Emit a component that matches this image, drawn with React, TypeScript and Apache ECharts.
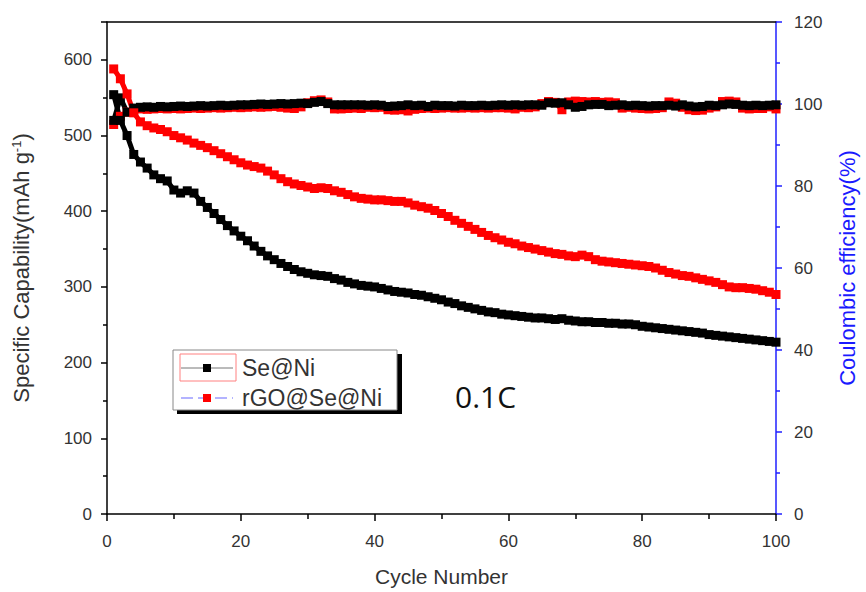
import React, { useEffect, useRef } from "react";
import * as echarts from "echarts";

const cycles: number[] = Array.from({ length: 100 }, (_, i) => i + 1);

const seNiCapacity = [
  554, 520, 500, 475, 465, 457, 448, 443, 440, 428,
  424, 427, 424, 413, 405, 397, 389, 381, 374, 367,
  361, 354, 347, 341, 336, 331, 327, 323, 320, 318,
  316, 315, 314, 311, 309, 306, 304, 302, 301, 300,
  298, 296, 294, 293, 292, 290, 289, 287, 285, 283,
  280, 278, 275, 273, 271, 269, 267, 266, 264, 263,
  262, 261, 260, 259, 259, 258, 257, 258, 256, 255,
  254, 254, 253, 253, 252, 252, 251, 251, 250, 248,
  247, 246, 245, 244, 243, 242, 241, 240, 239, 237,
  236, 235, 234, 233, 232, 231, 230, 229, 228, 227,
];

const rgoCapacity = [
  588, 575, 555, 530, 518, 513, 510, 508, 505, 500,
  497, 494, 490, 487, 484, 480, 476, 472, 468, 464,
  461, 459, 457, 453, 448, 443, 439, 436, 434, 432,
  430, 431, 430, 427, 425, 422, 419, 417, 416, 415,
  415, 414, 413, 413, 411, 408, 406, 404, 401, 397,
  393, 388, 384, 380, 376, 372, 368, 365, 362, 359,
  357, 354, 352, 350, 348, 346, 344, 343, 341, 340,
  342, 340, 336, 334, 333, 332, 331, 330, 329, 328,
  327, 325, 322, 319, 317, 315, 314, 312, 310, 308,
  306, 303, 300, 299, 299, 298, 297, 295, 293, 290,
];

const seNiCE = [
  96.0, 101.5, 98.0, 99.0, 99.2, 99.3, 99.2, 99.4, 99.3, 99.4,
  99.5, 99.4, 99.5, 99.6, 99.5, 99.6, 99.7, 99.6, 99.7, 99.8,
  99.8, 99.9, 100.0, 99.9, 100.0, 100.1, 100.0, 100.1, 100.2, 100.1,
  100.4, 100.6, 100.1, 99.8, 99.8, 99.8, 99.8, 99.8, 99.7, 99.8,
  99.7, 99.4, 99.5, 99.6, 99.8, 99.6, 99.7, 99.4, 99.7, 99.6,
  99.6, 99.5, 99.7, 99.6, 99.6, 99.7, 99.6, 99.7, 99.8, 99.7,
  99.8, 99.7, 99.8, 99.8, 99.7, 100.3, 100.2, 100.3, 99.8, 99.2,
  99.4, 99.8, 99.9, 99.9, 99.6, 99.7, 99.8, 99.6, 99.7, 99.6,
  99.5, 99.6, 99.6, 99.7, 99.5, 99.8, 99.5, 99.3, 99.4, 99.7,
  99.6, 99.8, 100.0, 99.9, 99.7, 99.6, 99.7, 99.6, 99.7, 99.8,
];

const rgoCE = [
  95.0, 97.0, 98.0, 98.5, 98.8, 98.7, 98.8, 98.9, 98.8, 98.9,
  98.8, 98.9, 99.0, 98.9, 99.0, 99.1, 99.0, 99.1, 99.2, 99.1,
  99.2, 99.3, 99.2, 99.3, 99.4, 99.2, 99.0, 98.9, 99.3, 100.3,
  100.8, 101.0, 100.5, 98.8, 98.8, 98.9, 99.0, 98.9, 99.2, 99.1,
  99.2, 98.6, 98.5, 98.6, 98.3, 98.7, 98.9, 99.0, 98.9, 99.0,
  99.1, 99.0, 99.0, 99.1, 99.0, 99.1, 99.0, 99.1, 99.1, 99.0,
  98.8, 99.2, 99.1, 99.3, 100.1, 100.6, 100.4, 98.6, 100.5, 100.7,
  100.6, 100.5, 100.6, 100.4, 100.5, 100.3, 99.0, 99.2, 99.0, 98.9,
  98.8, 98.9, 99.1, 100.5, 100.2, 99.2, 98.6, 98.4, 98.5, 99.0,
  99.3, 100.6, 100.7, 100.5, 99.0, 98.8, 98.9, 98.9, 99.3, 98.8,
];

const seriesNames = ["Se@Ni", "rGO@Se@Ni"];
const rateLabel = "0.1C";

const pair = (vals: number[]) => vals.map((v, i) => [cycles[i], v]);

const FONT = "'Liberation Sans', Arial, sans-serif";

export default function App() {
  const ref = useRef<HTMLDivElement>(null);
  useEffect(() => {
    if (!ref.current) return;
    const chart = echarts.init(ref.current, undefined, { renderer: "svg" });
    const lineSeries = (name: string, data: number[], color: string, yIdx: number) => ({
      name,
      type: "line",
      yAxisIndex: yIdx,
      data: pair(data),
      symbol: "rect",
      symbolSize: 9,
      showSymbol: true,
      itemStyle: { color },
      lineStyle: { color, width: 5 },
      silent: true,
    });
    chart.setOption({
      animation: false,
      backgroundColor: "#ffffff",
      grid: { left: 107, right: 86, top: 22, bottom: 75 },
      xAxis: [
        {
          type: "value",
          min: 0,
          max: 100,
          interval: 20,
          name: "Cycle Number",
          nameLocation: "middle",
          nameGap: 52,
          nameTextStyle: { fontFamily: FONT, fontSize: 21, color: "#333" },
          axisLine: { onZero: false, lineStyle: { color: "#000", width: 1.5 } },
          axisTick: { inside: false, length: 7, lineStyle: { color: "#000", width: 1.5 } },
          minorTick: { show: true, splitNumber: 2, length: 5, lineStyle: { color: "#000", width: 1.5 } },
          axisLabel: { fontFamily: FONT, fontSize: 17, color: "#333", margin: 19 },
          splitLine: { show: false },
        },
        {
          type: "value",
          position: "top",
          min: 0,
          max: 100,
          axisLine: { show: true, onZero: false, lineStyle: { color: "#000", width: 1.5 } },
          axisTick: { show: false },
          axisLabel: { show: false },
          splitLine: { show: false },
        },
      ],
      yAxis: [
        {
          type: "value",
          position: "left",
          min: 0,
          max: 650,
          interval: 100,
          name: "Specific Capability(mAh g{sup|-1})",
          nameLocation: "middle",
          nameRotate: 90,
          nameGap: 74,
          nameTextStyle: {
            fontFamily: FONT,
            fontSize: 22,
            color: "#333",
            rich: { sup: { fontFamily: FONT, fontSize: 13, color: "#333", padding: [0, 0, 10, 0] } },
          },
          axisLine: { show: true, onZero: false, lineStyle: { color: "#000", width: 1.5 } },
          axisTick: { show: true, inside: false, length: 6, lineStyle: { color: "#000", width: 1.5 } },
          minorTick: { show: true, splitNumber: 2, length: 4, lineStyle: { color: "#000", width: 1.5 } },
          axisLabel: { fontFamily: FONT, fontSize: 17, color: "#333", margin: 15, showMaxLabel: false },
          splitLine: { show: false },
        },
        {
          type: "value",
          position: "right",
          min: 0,
          max: 120,
          interval: 20,
          name: "Coulombic efficiency(%)",
          nameLocation: "middle",
          nameRotate: 90,
          nameGap: 60,
          nameTextStyle: { fontFamily: FONT, fontSize: 22, color: "#1a1aff" },
          axisLine: { show: true, onZero: false, lineStyle: { color: "#2020ff", width: 1.5 } },
          axisTick: { show: true, inside: false, length: 6, lineStyle: { color: "#2020ff", width: 1.5 } },
          minorTick: { show: true, splitNumber: 2, length: 4, lineStyle: { color: "#2020ff", width: 1.5 } },
          axisLabel: { fontFamily: FONT, fontSize: 17, color: "#333", margin: 18 },
          splitLine: { show: false },
        },
      ],
      series: [
        lineSeries(seriesNames[1] + " CE", rgoCE, "#ff0000", 1),
        lineSeries(seriesNames[0] + " CE", seNiCE, "#000000", 1),
        lineSeries(seriesNames[0], seNiCapacity, "#000000", 0),
        lineSeries(seriesNames[1], rgoCapacity, "#ff0000", 0),
      ],
      graphic: [
        { type: "rect", shape: { x: 177, y: 354, width: 225, height: 60 }, style: { fill: "#000" }, z: 10 },
        { type: "rect", shape: { x: 173, y: 350, width: 224, height: 60 }, style: { fill: "#fff", stroke: "#888", lineWidth: 1 }, z: 11 },
        { type: "rect", shape: { x: 180, y: 354, width: 56, height: 27 }, style: { fill: "none", stroke: "#ff8080", lineWidth: 1 }, z: 12 },
        { type: "line", shape: { x1: 181, y1: 368, x2: 233, y2: 368 }, style: { stroke: "#777", lineWidth: 1 }, z: 12 },
        { type: "rect", shape: { x: 203, y: 364, width: 8, height: 8 }, style: { fill: "#000" }, z: 13 },
        { type: "text", x: 242, y: 368, style: { text: seriesNames[0], fontFamily: FONT, fontSize: 23, fill: "#333", verticalAlign: "middle" }, z: 12 },
        { type: "line", shape: { x1: 181, y1: 398, x2: 233, y2: 398 }, style: { stroke: "#9a9aff", lineWidth: 1.5, lineDash: [12, 5] }, z: 12 },
        { type: "rect", shape: { x: 203, y: 394, width: 8, height: 8 }, style: { fill: "#ff0000" }, z: 13 },
        { type: "text", x: 242, y: 398, style: { text: seriesNames[1], fontFamily: FONT, fontSize: 23, fill: "#333", verticalAlign: "middle" }, z: 12 },
        { type: "text", x: 455, y: 396, style: { text: rateLabel, fontFamily: "'Open Sans', sans-serif", fontSize: 30, fill: "#111", verticalAlign: "middle" }, z: 12 },
      ],
    });
    return () => chart.dispose();
  }, []);
  return <div ref={ref} style={{ position: "absolute", left: 0, top: 0, width: 866, height: 592 }} />;
}
